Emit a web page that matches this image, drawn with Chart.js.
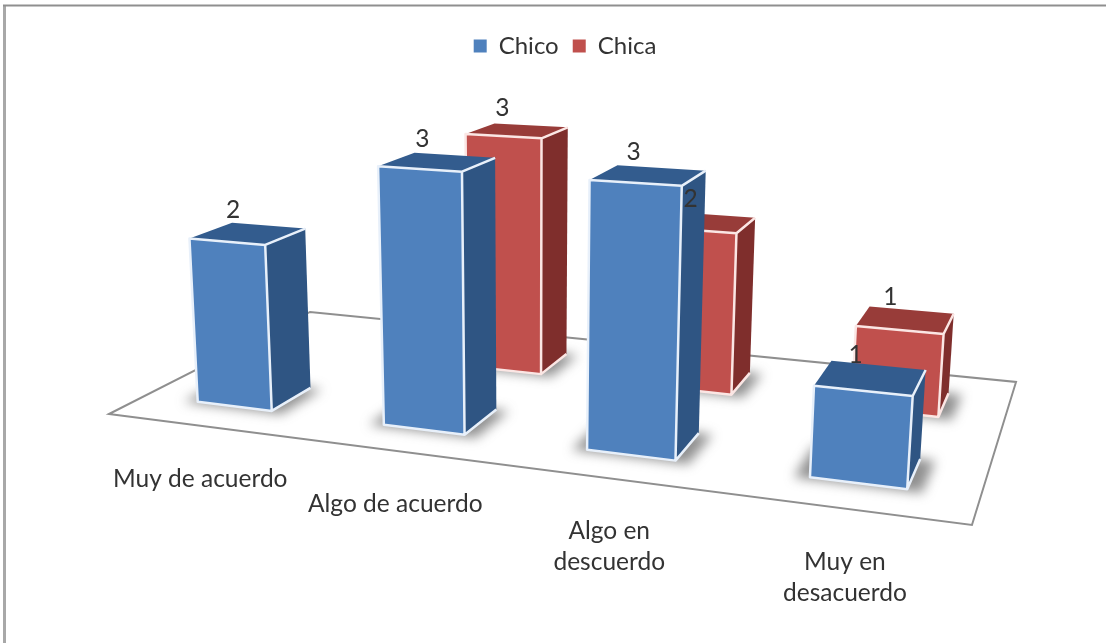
<!DOCTYPE html>
<html lang="es">
<head>
<meta charset="utf-8">
<title>Chico / Chica</title>
<script src="https://cdn.jsdelivr.net/npm/chart.js@4"></script>
<style>
  html, body { margin: 0; background: #fff; }
  canvas { display: block; }
</style>
</head>
<body>
<canvas id="grafico" width="1106" height="643"></canvas>
<script>
// datos
const categorias = ["Muy de acuerdo", "Algo de acuerdo", ["Algo en", "descuerdo"], ["Muy en", "desacuerdo"]];
const chico = [2, 3, 3, 1];
const chica = [null, 3, 2, 1];
const series = ["Chico", "Chica"];
const colorFrente = ["#4f81bd", "#c0504d"];
const colorLado = ["#2f5583", "#7f2e2c"];
const colorTecho = ["#335c8e", "#983c39"];
const colorBorde = ["#e8f0fa", "#fbe6e4"];
const yMax = 3;

// camara: plano del suelo (u, v en 0..1) + altura por unidad de valor
const cam = {
  a: 695.2, b: 273.3, c: 109, d: 20.4, e: -29.3, f: 414,
  g: -0.1726, h: 0.2331, p: -6.6, q: -86.5, r: -0.0125
};
const profundoBarra = 0.097;

function proyectar(u, v, valor) {
  const w = cam.g * u + cam.h * v + 1 + cam.r * valor;
  return {
    x: (cam.a * u + cam.b * v + cam.c + cam.p * valor) / w,
    y: (cam.d * u + cam.e * v + cam.f + cam.q * valor) / w
  };
}

function poligono(ctx, pts) {
  ctx.beginPath();
  pts.forEach((p, i) => i ? ctx.lineTo(p.x, p.y) : ctx.moveTo(p.x, p.y));
  ctx.closePath();
}

// pasa una barra de la escala del grafico a coordenadas del suelo
function geometria(chart, bar, serie) {
  const area = chart.chartArea;
  const u0 = (bar.x - bar.width / 2 - area.left) / area.width;
  const u1 = (bar.x + bar.width / 2 - area.left) / area.width;
  const valor = (bar.base - bar.y) / area.height * yMax;
  // Chico delante, Chica detras
  const centro = (serie + 0.5) / series.length;
  return { u0, u1, v0: centro - profundoBarra, v1: centro + profundoBarra, valor, centro };
}

const barras3d = {
  id: "barras3d",
  beforeDraw(chart) {
    const ctx = chart.ctx;
    ctx.save();
    ctx.fillStyle = "#fff";
    ctx.fillRect(0, 0, chart.width, chart.height);
    ctx.strokeStyle = "#a8a8a8";
    ctx.lineWidth = 3;
    ctx.beginPath();
    ctx.moveTo(4.5, chart.height);
    ctx.lineTo(4.5, 5);
    ctx.stroke();
    ctx.strokeStyle = "#8f8f8f";
    ctx.lineWidth = 2;
    ctx.beginPath();
    ctx.moveTo(3, 5.5);
    ctx.lineTo(chart.width, 5.5);
    ctx.stroke();
    ctx.restore();
  },
  beforeDatasetsDraw(chart) {
    const ctx = chart.ctx;
    // suelo
    ctx.save();
    poligono(ctx, [proyectar(0, 0, 0), proyectar(1, 0, 0), proyectar(1, 1, 0), proyectar(0, 1, 0)]);
    ctx.fillStyle = "#fff";
    ctx.fill();
    ctx.strokeStyle = "#8f8f8f";
    ctx.lineWidth = 2;
    ctx.lineJoin = "miter";
    ctx.stroke();
    // sombras
    ctx.filter = "blur(6px)";
    ctx.fillStyle = "rgba(70,70,70,0.6)";
    chart.data.datasets.forEach((ds, s) => {
      chart.getDatasetMeta(s).data.forEach((bar, i) => {
        if (ds.data[i] == null) return;
        const g = geometria(chart, bar, s);
        const m = 0.016;
        poligono(ctx, [
          proyectar(g.u0 - m, g.v0 - 0.012, 0), proyectar(g.u1 + m, g.v0 - 0.012, 0),
          proyectar(g.u1 + m, g.v1, 0), proyectar(g.u0 - m, g.v1, 0)
        ]);
        ctx.fill();
      });
    });
    ctx.restore();
  },
  beforeDatasetDraw(chart, args) {
    const ctx = chart.ctx;
    const s = args.index;
    ctx.save();
    args.meta.data.forEach((bar, i) => {
      if (chart.data.datasets[s].data[i] == null) return;
      const g = geometria(chart, bar, s);
      const fbl = proyectar(g.u0, g.v0, 0), fbr = proyectar(g.u1, g.v0, 0);
      const ftl = proyectar(g.u0, g.v0, g.valor), ftr = proyectar(g.u1, g.v0, g.valor);
      const bbr = proyectar(g.u1, g.v1, 0);
      const btl = proyectar(g.u0, g.v1, g.valor), btr = proyectar(g.u1, g.v1, g.valor);
      ctx.lineWidth = 2.5;
      ctx.lineJoin = "round";
      ctx.strokeStyle = colorBorde[s];
      [[[fbr, bbr, btr, ftr], colorLado[s]], [[ftl, ftr, btr, btl], colorTecho[s]], [[fbl, fbr, ftr, ftl], colorFrente[s]]]
        .forEach(([pts, color]) => {
          poligono(ctx, pts);
          ctx.fillStyle = color;
          ctx.fill();
        });
      // solo las aristas de la cara frontal y las que salen hacia atras
      ctx.beginPath();
      ctx.moveTo(fbl.x, fbl.y); ctx.lineTo(fbr.x, fbr.y); ctx.lineTo(ftr.x, ftr.y); ctx.lineTo(ftl.x, ftl.y); ctx.closePath();
      ctx.moveTo(fbr.x, fbr.y); ctx.lineTo(bbr.x, bbr.y);
      ctx.moveTo(ftr.x, ftr.y); ctx.lineTo(btr.x, btr.y);
      ctx.stroke();
    });
    ctx.restore();
    return false;
  },
  afterDatasetsDraw(chart) {
    const ctx = chart.ctx;
    const area = chart.chartArea;
    ctx.save();
    ctx.fillStyle = "#333";
    ctx.textAlign = "center";
    ctx.textBaseline = "middle";
    ctx.font = "24.5px Lato";
    // etiquetas de valor
    chart.data.datasets.forEach((ds, s) => {
      chart.getDatasetMeta(s).data.forEach((bar, i) => {
        if (ds.data[i] == null) return;
        const g = geometria(chart, bar, s);
        const p = proyectar((g.u0 + g.u1) / 2, g.centro, g.valor);
        ctx.fillText(String(ds.data[i]), p.x - 15, p.y - 23);
      });
    });
    // etiquetas de categoria sobre el borde delantero del suelo
    const xScale = chart.scales.x;
    categorias.forEach((cat, i) => {
      const u = (xScale.getPixelForValue(i) - area.left) / area.width;
      const base = proyectar(u, 0, 0);
      [].concat(cat).forEach((linea, n) => {
        ctx.fillText(linea, base.x, base.y + 53 + n * 31);
      });
    });
    ctx.restore();
  }
};

new Chart(document.getElementById("grafico"), {
  type: "bar",
  data: {
    labels: categorias,
    datasets: [
      { label: series[0], data: chico, backgroundColor: colorFrente[0] },
      { label: series[1], data: chica, backgroundColor: colorFrente[1] }
    ]
  },
  options: {
    responsive: false,
    animation: false,
    grouped: false,
    categoryPercentage: 1,
    barPercentage: 0.408,
    layout: { padding: { left: 24, top: 20, bottom: 8, right: 0 } },
    events: [],
    scales: {
      x: { display: false },
      y: { display: false, min: 0, max: yMax }
    },
    plugins: {
      tooltip: { enabled: false },
      legend: {
        position: "top",
        labels: { boxWidth: 13, boxHeight: 13, color: "#333", padding: 14, font: { family: "Lato", size: 24 } }
      }
    }
  },
  plugins: [barras3d]
});
</script>
</body>
</html>
